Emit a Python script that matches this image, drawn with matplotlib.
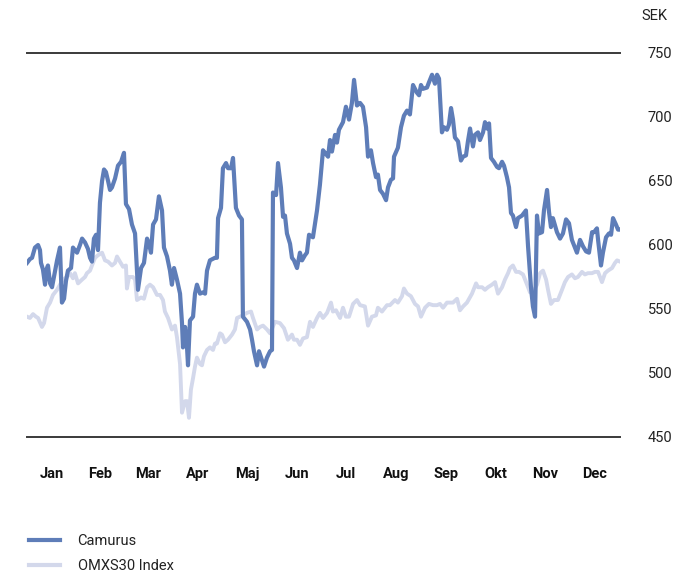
import matplotlib
matplotlib.use("Agg")
import matplotlib.pyplot as plt
from matplotlib.lines import Line2D

plt.rcParams['font.family'] = ['Roboto', 'DejaVu Sans']

# Day-of-year positions and closing prices (SEK)
camurus_day = [
    0.0, 1.8, 3.1, 4.9, 6.8, 8.0, 8.6, 9.8, 11.1, 12.3,
    12.9, 14.2, 15.4, 16.6, 18.5, 20.3, 21.5, 22.8, 24.0, 25.2,
    27.1, 28.3, 29.5, 30.8, 32.6, 33.9, 35.7, 37.5, 38.8, 40.0,
    41.2, 42.5, 43.7, 44.9, 46.2, 47.4, 48.6, 49.9, 51.1, 52.3,
    54.2, 56.0, 57.9, 59.7, 60.9, 62.8, 64.6, 66.5, 68.3, 70.2,
    72.0, 73.9, 75.1, 76.3, 77.6, 79.4, 81.2, 83.1, 84.3, 86.2,
    88.0, 89.2, 90.5, 92.3, 94.2, 95.4, 96.0, 97.3, 98.5, 99.1,
    100.3, 102.2, 103.4, 104.6, 106.5, 108.3, 109.6, 110.8, 112.6, 115.7,
    116.9, 117.6, 119.4, 120.6, 122.5, 123.7, 125.6, 126.8, 128.6, 130.5,
    132.3, 132.9, 135.4, 137.3, 138.5, 139.7, 141.6, 142.8, 144.6, 145.9,
    147.7, 149.6, 150.8, 151.4, 153.3, 154.5, 156.3, 157.6, 158.8, 160.0,
    161.9, 163.1, 164.3, 166.2, 168.0, 169.3, 171.1, 172.3, 173.6, 176.0,
    178.5, 180.3, 182.2, 183.4, 185.3, 186.5, 187.7, 189.6, 190.8, 192.0,
    194.5, 196.3, 198.2, 200.0, 201.3, 203.1, 205.0, 206.8, 208.7, 209.9,
    211.7, 213.0, 214.8, 216.0, 217.3, 219.1, 221.0, 222.2, 224.0, 225.3,
    225.9, 228.3, 230.2, 232.0, 233.9, 235.7, 237.6, 240.0, 241.3, 242.5,
    243.7, 246.2, 247.4, 249.3, 251.1, 252.4, 253.6, 255.4, 256.7, 258.5,
    259.7, 261.0, 262.2, 263.4, 265.3, 267.1, 268.4, 270.2, 271.4, 272.7,
    274.5, 275.7, 277.6, 278.8, 280.7, 281.9, 283.1, 284.4, 285.6, 287.4,
    289.3, 290.5, 292.4, 293.6, 295.4, 296.7, 297.9, 299.1, 301.0, 302.2,
    304.7, 307.1, 308.4, 310.2, 311.4, 312.7, 313.9, 315.1, 317.0, 318.2,
    320.1, 321.3, 322.5, 323.7, 326.2, 328.1, 329.9, 331.8, 333.6, 335.4,
    337.3, 338.5, 340.4, 342.2, 344.1, 345.9, 347.8, 349.0, 350.8, 351.5,
    353.3, 354.5, 356.4, 358.2, 359.5, 360.7, 362.5, 363.8, 365.0,
]
camurus = [
    586, 589, 590, 598, 600, 596, 586, 581, 569, 582,
    584, 570, 567, 575, 588, 598, 555, 558, 572, 580,
    582, 598, 596, 594, 600, 605, 602, 597, 590, 587,
    605, 608, 596, 633, 650, 659, 657, 650, 643, 645,
    652, 662, 665, 672, 632, 628, 616, 609, 565, 582,
    586, 605, 601, 594, 616, 620, 638, 627, 598, 591,
    580, 569, 582, 573, 562, 539, 520, 536, 520, 506,
    541, 544, 562, 569, 562, 563, 562, 580, 588, 590,
    590, 621, 629, 660, 664, 660, 660, 668, 629, 623,
    620, 544, 540, 534, 526, 517, 506, 517, 510, 505,
    512, 517, 518, 641, 639, 664, 645, 622, 623, 609,
    601, 590, 588, 582, 594, 588, 592, 594, 608, 606,
    627, 647, 674, 672, 669, 682, 673, 686, 680, 690,
    696, 708, 698, 711, 729, 709, 711, 708, 692, 669,
    674, 664, 653, 655, 643, 640, 635, 645, 651, 652,
    669, 676, 692, 701, 705, 702, 725, 719, 717, 725,
    722, 723, 727, 733, 726, 733, 730, 688, 692, 690,
    694, 707, 698, 684, 681, 666, 669, 670, 681, 691,
    677, 686, 688, 682, 688, 696, 691, 695, 668, 665,
    661, 660, 665, 662, 653, 645, 625, 623, 614, 621,
    623, 627, 599, 567, 552, 544, 623, 609, 610, 627,
    643, 626, 614, 621, 610, 605, 609, 620, 617, 604,
    598, 594, 604, 599, 595, 594, 610, 610, 613, 604,
    584, 594, 606, 609, 608, 621, 616, 612, 612,
]

omx_day = [
    0.0, 1.8, 3.7, 5.5, 6.8, 9.2, 10.5, 12.3, 14.2, 16.0,
    18.5, 20.3, 22.2, 24.6, 26.5, 28.3, 29.5, 31.4, 33.9, 35.7,
    36.9, 38.8, 40.6, 41.9, 43.7, 46.2, 48.0, 49.9, 52.3, 54.2,
    55.4, 57.2, 59.1, 60.9, 61.5, 62.8, 65.2, 66.5, 67.7, 70.2,
    72.0, 73.9, 75.7, 77.6, 80.0, 81.9, 83.7, 84.9, 86.8, 89.2,
    91.1, 92.3, 94.2, 95.4, 97.3, 98.5, 99.7, 100.9, 102.2, 103.4,
    104.6, 106.5, 107.7, 108.9, 110.8, 112.6, 114.5, 115.7, 116.9, 118.8,
    120.0, 121.9, 123.7, 126.2, 128.0, 129.3, 131.1, 132.9, 135.4, 137.9,
    139.1, 141.6, 143.4, 145.3, 147.7, 149.6, 152.6, 155.7, 158.2, 160.6,
    163.1, 164.3, 166.2, 168.0, 169.9, 172.3, 174.2, 176.0, 178.5, 180.3,
    182.2, 184.7, 187.1, 188.3, 190.2, 192.7, 194.5, 196.3, 198.2, 200.7,
    203.1, 205.0, 208.0, 209.9, 212.3, 214.8, 216.0, 218.5, 221.6, 223.4,
    226.5, 228.3, 230.8, 232.0, 233.9, 236.3, 238.8, 240.7, 242.5, 245.0,
    247.4, 249.9, 252.4, 254.2, 256.1, 258.5, 260.4, 262.2, 264.7, 266.5,
    268.4, 270.8, 273.9, 276.4, 277.6, 280.1, 281.9, 283.7, 286.2, 288.1,
    289.9, 292.4, 294.2, 296.1, 297.3, 299.1, 301.0, 302.8, 305.3, 307.8,
    309.6, 311.4, 313.9, 315.8, 317.6, 319.5, 320.7, 322.5, 324.4, 326.8,
    329.3, 331.1, 333.0, 335.4, 337.3, 339.1, 341.6, 343.4, 345.3, 347.8,
    349.6, 351.5, 353.9, 355.8, 357.6, 360.1, 361.9, 363.2, 365.0,
]
omx = [
    544, 543, 546, 544, 543, 536, 539, 551, 555, 561,
    565, 569, 573, 575, 578, 574, 578, 570, 573, 575,
    578, 580, 586, 590, 592, 594, 588, 587, 584, 586,
    591, 587, 583, 584, 566, 575, 575, 573, 557, 559,
    558, 567, 569, 567, 561, 561, 557, 548, 543, 534,
    537, 528, 507, 469, 478, 478, 465, 487, 496, 505,
    512, 507, 506, 513, 518, 520, 518, 523, 523, 531,
    530, 524, 526, 530, 534, 543, 544, 545, 547, 548,
    543, 534, 536, 537, 534, 531, 540, 539, 535, 526,
    530, 526, 526, 522, 527, 528, 540, 536, 543, 547,
    543, 547, 555, 548, 549, 543, 551, 544, 544, 554,
    557, 553, 552, 537, 544, 545, 551, 548, 553, 553,
    557, 555, 560, 566, 562, 560, 554, 552, 544, 551,
    554, 553, 553, 554, 551, 555, 555, 555, 558, 549,
    552, 555, 562, 570, 567, 567, 565, 567, 569, 571,
    562, 567, 573, 578, 582, 584, 579, 579, 577, 569,
    563, 563, 569, 578, 580, 573, 565, 554, 557, 557,
    565, 571, 575, 577, 574, 575, 579, 577, 578, 578,
    579, 579, 571, 578, 580, 582, 586, 588, 587,
]

months = ['Jan', 'Feb', 'Mar', 'Apr', 'Maj', 'Jun', 'Jul', 'Aug', 'Sep', 'Okt', 'Nov', 'Dec']
month_mid = [15.5, 45, 74.5, 105, 135.5, 166, 196.5, 227.5, 258, 288.5, 319, 349.5]
y_ticks = [450, 500, 550, 600, 650, 700, 750]
series_names = ['Camurus', 'OMXS30 Index']

c_cam = '#5e7db8'
c_omx = '#d3d8eb'

fig = plt.figure(figsize=(6.95, 5.72), dpi=100)
ax = fig.add_axes([27/695, 1 - 437/572, (620 - 27)/695, (437 - 53)/572])

ax.plot(omx_day, omx, color=c_omx, lw=2.8, solid_joinstyle='round', zorder=2)
ax.plot(camurus_day, camurus, color=c_cam, lw=3.0, solid_joinstyle='round', zorder=3)

ax.set_xlim(0, 365)
ax.set_ylim(450, 750)
for v in (450, 750):
    ax.axhline(v, color='#3a3a3a', lw=1.4, zorder=4, clip_on=False)

for s in ax.spines.values():
    s.set_visible(False)

ax.yaxis.tick_right()
ax.set_yticks(y_ticks)
ax.set_yticklabels([str(v) for v in y_ticks])
ax.tick_params(axis='y', length=0, pad=20, labelsize=10.5, labelcolor='#222222')

ax.set_xticks(month_mid)
ax.set_xticklabels(months, fontweight='bold')
ax.tick_params(axis='x', length=0, pad=21.5, labelsize=10.5, labelcolor='#111111')

fig.text(641/695, 1 - 16/572, 'SEK', fontsize=10.5, color='#222222', va='center', ha='left')

handles = [Line2D([], [], color=c_cam, lw=3.0), Line2D([], [], color=c_omx, lw=3.0)]
fig.legend(handles, series_names, loc='upper left',
           bbox_to_anchor=(25/695, 1 - 530/572), frameon=False,
           fontsize=10.5, handlelength=2.1, handletextpad=1.2, labelspacing=0.72,
           borderaxespad=0, borderpad=0.3, labelcolor='#222222')

fig.savefig('out.png', dpi=100)
